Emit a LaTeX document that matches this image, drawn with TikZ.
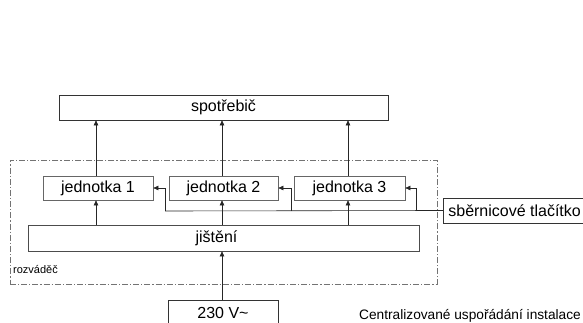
\documentclass[tikz,border=0pt]{standalone}
\usepackage{fontspec}
\setmainfont{Liberation Sans}
\usetikzlibrary{arrows.meta}
\begin{document}
\begin{tikzpicture}[x=1pt,y=-1pt,
  box/.style={draw=black!80,line width=0.7pt,minimum height=25pt,inner sep=0pt,font=\fontsize{16}{19}\selectfont},
  jbox/.style={box,draw=black!60,minimum height=24pt},
  dashbox/.style={draw=black!55,line width=0.6pt,dash pattern=on 6pt off 2pt on 1.2pt off 2pt,inner sep=0pt},
  conn/.style={line width=0.6pt,draw=black!85},
  arr/.style={conn,-{Triangle[length=5pt,width=4.5pt]}}]
\useasboundingbox (0,0) rectangle (583,323);
% frame of rozvadec
\node[dashbox,minimum width=427pt,minimum height=124pt] (rozv) at (223.5,222) {};
\node[anchor=base west,font=\fontsize{11}{13}\selectfont,inner sep=0pt] (rozvlbl) at (13,273) {rozváděč};
% boxes
\node[box,minimum width=329pt] (spot) at (223.5,107.5) {spotřebič};
\node[jbox,minimum width=110pt] (j1) at (98,188) {jednotka 1};
\node[jbox,minimum width=109pt] (j2) at (223.5,188) {jednotka 2};
\node[jbox,minimum width=111pt] (j3) at (349.5,188) {jednotka 3};
\node[box,draw=black!70,minimum width=391pt,minimum height=26pt] (jis) at (223.5,238) {\hspace*{-14pt}jištění};
\node[box,minimum width=110pt] (v) at (223,312.5) {230 V\char"007E};
\node[box,anchor=west,inner xsep=5pt] (sb) at (443,210.5) {sběrnicové tlačítko};
% caption
\node[anchor=base west,font=\fontsize{13.7}{16}\selectfont,inner sep=0pt] (cap) at (359,319) {Centralizované uspořádání instalace};
% arrows to spotrebic
\draw[arr] (j1.north -| 96,0) -- (spot.south -| 96,0);
\draw[arr] (j2.north -| 222,0) -- (spot.south -| 222,0);
\draw[arr] (j3.north -| 348,0) -- (spot.south -| 348,0);
% arrows from jisteni
\draw[arr] (jis.north -| 96,0) -- (j1.south -| 96,0);
\draw[arr] (jis.north -| 222,0) -- (j2.south -| 222,0);
\draw[arr] (jis.north -| 348,0) -- (j3.south -| 348,0);
% supply
\draw[arr] (v.north -| 222,0) -- (jis.south -| 222,0);
% bus
\coordinate (b1) at (165,211);
\coordinate (b2) at (291,211);
\coordinate (b3) at (416,211);
\draw[conn] (sb.west) -- (b1);
\draw[arr] (b1) -- (165,188) -- (j1.east);
\draw[arr] (b2) -- (291,188) -- (j2.east);
\draw[arr] (b3) -- (416,188) -- (j3.east);
\end{tikzpicture}
\end{document}
